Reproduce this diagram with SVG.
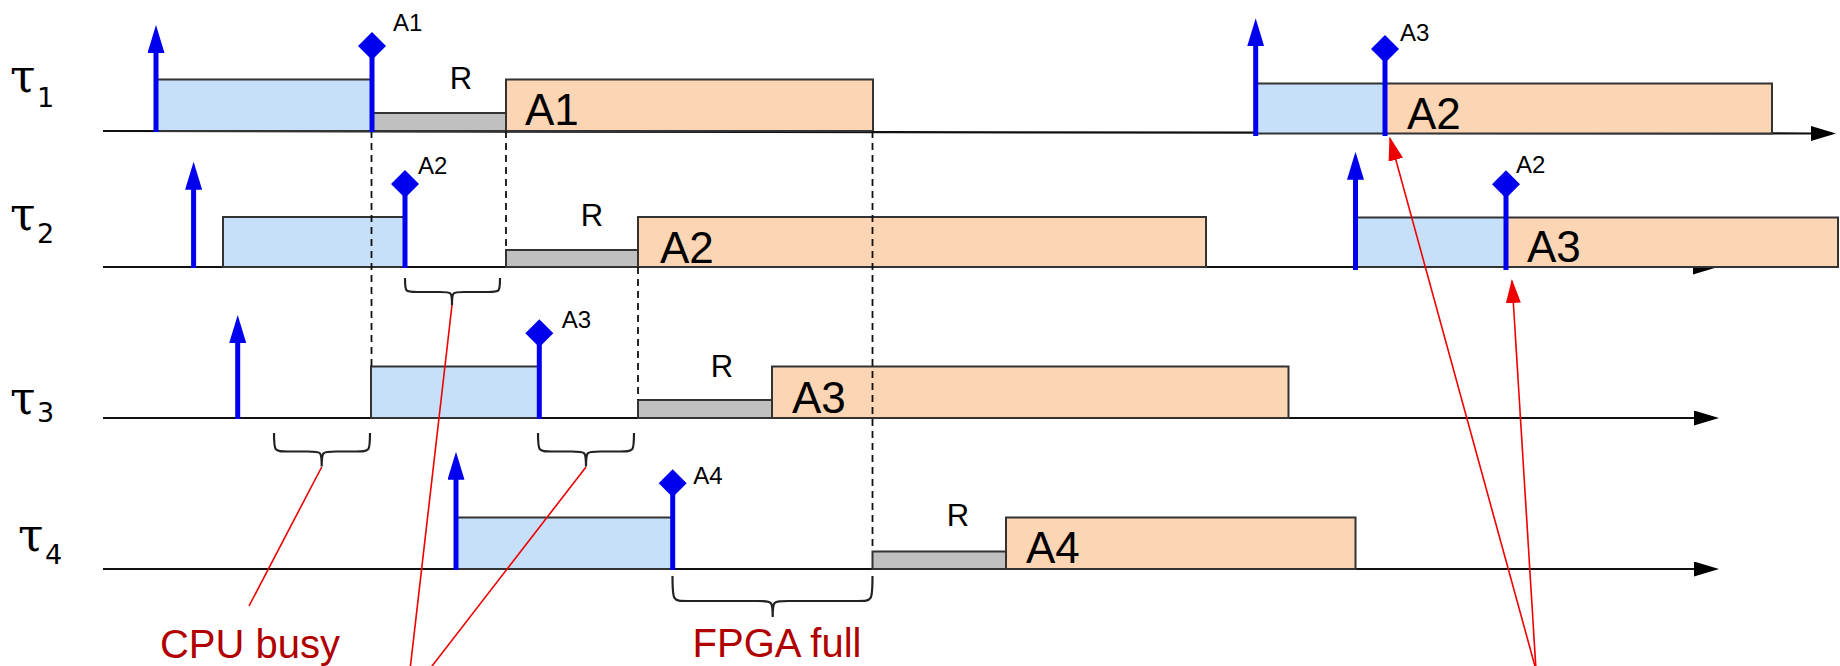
<svg xmlns="http://www.w3.org/2000/svg" width="1840" height="666" viewBox="0 0 1840 666">
<style>
.axis{stroke:#111;stroke-width:2.2;fill:none}
.cpu{fill:#c6e0fa;stroke:#333;stroke-width:2}
.fpga{fill:#fbd5b4;stroke:#333;stroke-width:2}
.rec{fill:#c0c0c0;stroke:#333;stroke-width:2}
.dash{stroke:#111;stroke-width:1.8;stroke-dasharray:7 5;fill:none}
.rel{stroke:#0000ee;stroke-width:5;fill:none}
.stem{stroke:#0000ee;stroke-width:5}
.dia{fill:#0000ee}
.brace{fill:none;stroke:#222;stroke-width:2.2}
.red{stroke:#ee0000;stroke-width:1.6;fill:none}
.tau{font-family:"DejaVu Serif","Liberation Serif",serif;font-size:46px;fill:#000}
.sub{font-family:"DejaVu Sans","Liberation Sans",sans-serif;font-size:27px;fill:#000}
.sm{font-family:"Liberation Sans",Arial,sans-serif;font-size:24px;fill:#000}
.big{font-family:"Liberation Sans",Arial,sans-serif;font-size:44px;fill:#000}
.r{font-family:"Liberation Sans",Arial,sans-serif;font-size:31px;fill:#000;text-anchor:middle}
.note{font-family:"Liberation Sans",Arial,sans-serif;font-size:40px;fill:#b00000;text-anchor:middle}
</style>
<defs>
<marker id="axisHead" viewBox="0 0 25 15" refX="2" refY="7.5" markerWidth="25" markerHeight="15" markerUnits="userSpaceOnUse" orient="auto"><path d="M0,0 L25,7.5 L0,15 z" fill="#000"/></marker>
<marker id="blueHead" viewBox="0 0 28 17" refX="8" refY="8.5" markerWidth="28" markerHeight="17" markerUnits="userSpaceOnUse" orient="auto"><path d="M0,0 L28,8.5 L0,17 z" fill="#0000ee"/></marker>
<marker id="redHead" viewBox="0 0 24 15" refX="22" refY="7.5" markerWidth="24" markerHeight="15" markerUnits="userSpaceOnUse" orient="auto"><path d="M0,0 L24,7.5 L0,15 z" fill="#ee0000"/></marker>
</defs>

<g id="axes">
<line class="axis" x1="103" y1="131" x2="1813" y2="133.5" marker-end="url(#axisHead)"/>
<line class="axis" x1="103" y1="267" x2="1695" y2="267" marker-end="url(#axisHead)"/>
<line class="axis" x1="103" y1="418" x2="1696" y2="418" marker-end="url(#axisHead)"/>
<line class="axis" x1="103" y1="569" x2="1696" y2="569" marker-end="url(#axisHead)"/>
</g>

<g id="labels-tau">
<g id="tau1"><text class="tau" x="10" y="92">τ</text><text class="sub" x="37" y="107">1</text></g>
<g id="tau2"><text class="tau" x="10" y="230">τ</text><text class="sub" x="37" y="242.5">2</text></g>
<g id="tau3"><text class="tau" x="10" y="413.5">τ</text><text class="sub" x="37" y="422">3</text></g>
<g id="tau4"><text class="tau" x="18" y="551">τ</text><text class="sub" x="45" y="564">4</text></g>
</g>

<g id="tau1-job1">
<rect class="cpu" x="156" y="79.5" width="215" height="51.5"/>
<rect class="rec" x="371" y="113" width="135" height="18"/>
<rect class="fpga" x="506" y="79.5" width="367" height="51.5"/>
<text class="r" x="461" y="89">R</text>
<text class="big" x="525" y="125">A1</text>
</g>
<g id="tau1-job2">
<rect class="cpu" x="1256" y="83.5" width="129" height="50"/>
<rect class="fpga" x="1385" y="83.5" width="387" height="50"/>
<text class="big" x="1407" y="129">A2</text>
</g>
<g id="tau2-job1">
<rect class="cpu" x="223" y="217" width="182" height="50"/>
<rect class="rec" x="506" y="250" width="132" height="17"/>
<rect class="fpga" x="638" y="217" width="568" height="50"/>
<text class="r" x="592" y="226">R</text>
<text class="big" x="660" y="263">A2</text>
</g>
<g id="tau2-job2">
<rect class="cpu" x="1355.5" y="217.5" width="150.5" height="49.5"/>
<rect class="fpga" x="1506" y="217.5" width="332" height="49.5"/>
<text class="big" x="1527" y="262">A3</text>
</g>
<g id="tau3-job1">
<rect class="cpu" x="371" y="366.5" width="168" height="51.5"/>
<rect class="rec" x="638" y="400" width="134" height="18"/>
<rect class="fpga" x="772" y="366.5" width="516.5" height="51.5"/>
<text class="r" x="722" y="377">R</text>
<text class="big" x="792" y="413">A3</text>
</g>
<g id="tau4-job1">
<rect class="cpu" x="456" y="517.5" width="216.5" height="51.5"/>
<rect class="rec" x="872.5" y="551.5" width="133.5" height="17.5"/>
<rect class="fpga" x="1006" y="517.5" width="349.5" height="51.5"/>
<text class="r" x="958" y="526">R</text>
<text class="big" x="1026" y="563">A4</text>
</g>

<g id="connectors">
<line class="dash" x1="371.5" y1="131" x2="371.5" y2="366"/>
<line class="dash" x1="506" y1="131" x2="506" y2="250"/>
<line class="dash" x1="638" y1="267" x2="638" y2="400"/>
<line class="dash" x1="872.5" y1="131" x2="872.5" y2="551"/>

<path class="brace" d="M405,278 C405,292 405,292 417,292 L440,292 C452,292 452,292 452,305 C452,292 452,292 464,292 L488,292 C500,292 500,292 500,278"/>
<path class="brace" d="M274,433 C274,451.5 274,451.5 288,451.5 L308,451.5 C321.7,451.5 321.7,451.5 321.7,466.5 C321.7,451.5 321.7,451.5 336,451.5 L356,451.5 C370,451.5 370,451.5 370,433"/>
<path class="brace" d="M538,433 C538,451.5 538,451.5 552,451.5 L572,451.5 C586,451.5 586,451.5 586,466.5 C586,451.5 586,451.5 600,451.5 L620,451.5 C634,451.5 634,451.5 634,433"/>
<path class="brace" d="M672.5,576 C672.5,601 672.5,601 688,601 L757,601 C772.7,601 772.7,601 772.7,617 C772.7,601 772.7,601 788,601 L857,601 C872.5,601 872.5,601 872.5,576"/>

<line class="red" x1="321.7" y1="467" x2="249" y2="606"/>
<line class="red" x1="452" y1="305" x2="410" y2="670"/>
<line class="red" x1="586" y1="467" x2="429" y2="670"/>
<line class="red" x1="1536" y1="670" x2="1390" y2="138.5" marker-end="url(#redHead)"/>
<line class="red" x1="1536" y1="670" x2="1512" y2="281" marker-end="url(#redHead)"/>
</g>

<g id="releases">
<line class="rel" x1="156" y1="132" x2="156" y2="45" marker-end="url(#blueHead)"/>
<line class="rel" x1="193.6" y1="268" x2="193.6" y2="181.7" marker-end="url(#blueHead)"/>
<line class="rel" x1="237.7" y1="419" x2="237.7" y2="335" marker-end="url(#blueHead)"/>
<line class="rel" x1="456" y1="570" x2="456" y2="471.7" marker-end="url(#blueHead)"/>
<line class="rel" x1="1255.7" y1="136" x2="1255.7" y2="38.3" marker-end="url(#blueHead)"/>
<line class="rel" x1="1355.5" y1="270" x2="1355.5" y2="171.7" marker-end="url(#blueHead)"/>
</g>

<g id="dispatch-A1"><line class="stem" x1="372" y1="132" x2="372" y2="46"/><polygon class="dia" points="372,32 386,46 372,60 358,46"/><text class="sm" x="393" y="31">A1</text></g>
<g id="dispatch-A2"><line class="stem" x1="405" y1="268" x2="405" y2="184"/><polygon class="dia" points="405,170 419,184 405,198 391,184"/><text class="sm" x="418" y="174">A2</text></g>
<g id="dispatch-A3"><line class="stem" x1="539.3" y1="419" x2="539.3" y2="333.3"/><polygon class="dia" points="539.3,319.3 553.3,333.3 539.3,347.3 525.3,333.3"/><text class="sm" x="561.7" y="328">A3</text></g>
<g id="dispatch-A4"><line class="stem" x1="672.7" y1="570" x2="672.7" y2="483.3"/><polygon class="dia" points="672.7,469.3 686.7,483.3 672.7,497.3 658.7,483.3"/><text class="sm" x="693.3" y="484">A4</text></g>
<g id="dispatch-A3b"><line class="stem" x1="1385" y1="136" x2="1385" y2="49"/><polygon class="dia" points="1385,35 1399,49 1385,63 1371,49"/><text class="sm" x="1400" y="41">A3</text></g>
<g id="dispatch-A2b"><line class="stem" x1="1506" y1="270" x2="1506" y2="184.3"/><polygon class="dia" points="1506,170.3 1520,184.3 1506,198.3 1492,184.3"/><text class="sm" x="1516" y="173">A2</text></g>

<g id="note-cpu"><text class="note" x="250" y="658">CPU busy</text></g>
<g id="note-fpga"><text class="note" x="777" y="657">FPGA full</text></g>
</svg>
